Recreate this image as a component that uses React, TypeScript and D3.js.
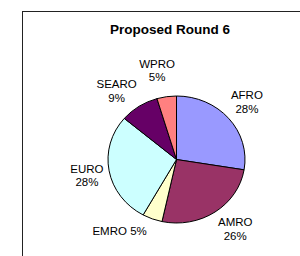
import React from "react";
import * as d3 from "d3";

const regions = ["AFRO", "AMRO", "EMRO", "EURO", "SEARO", "WPRO"];
const shares = [27.6, 25.8, 4.7, 28.1, 9.2, 4.6];
const shareLabels = ["28%", "26%", "5%", "28%", "9%", "5%"];
const colors = ["#9999FF", "#993366", "#FFFFCC", "#CCFFFF", "#660066", "#FF8080"];

// layout tweaks (degrees) so the labels sit where Excel put them
const labelNudge = [1, -6, 18, 0, -8, -4];
const oneLine = [false, false, true, false, false, false];

const width = 300;
const height = 256;
const cx = 176.5;
const cy = 159.5;
const rx = 68.5;
const ry = 63.5;
const labelR = 91;

export default function App() {
  const data = regions.map((r, i) => ({ region: r, value: shares[i], label: shareLabels[i], i }));
  const pie = d3.pie<any>().sort(null).value((d) => d.value);
  const arcs = pie(data);
  const arc = d3.arc<any>().innerRadius(0).outerRadius(rx);

  return (
    <svg width={width} height={height} style={{ position: "absolute", left: 0, top: 0 }}
      fontFamily="'Liberation Sans', Arial, sans-serif">
      <rect x={0} y={0} width={width} height={height} fill="#fff" />
      <rect x={22.5} y={11.5} width={400} height={400} fill="none" stroke="#222" strokeWidth={1} />
      <text x={170} y={34} textAnchor="middle" fontWeight="bold" fontSize={13.5} fill="#000">
        Proposed Round 6
      </text>
      <g transform={`translate(${cx},${cy}) scale(1,${ry / rx})`}>
        {arcs.map((a, i) => (
          <path key={i} d={arc(a) || ""} fill={colors[i]} stroke="#000" strokeWidth={1}
            vectorEffect="non-scaling-stroke" />
        ))}
      </g>
      {arcs.map((a, i) => {
        const mid = (a.startAngle + a.endAngle) / 2 + (labelNudge[i] * Math.PI) / 180;
        const lx = cx + labelR * Math.sin(mid);
        const ly = cy - labelR * Math.cos(mid);
        if (oneLine[i]) {
          return (
            <text key={i} x={lx} y={ly + 4} textAnchor="middle" fontSize={11.5} fill="#000">
              {`${a.data.region} ${a.data.label}`}
            </text>
          );
        }
        return (
          <text key={i} textAnchor="middle" fontSize={11.5} fill="#000">
            <tspan x={lx} y={ly - 6.75 + 4}>{a.data.region}</tspan>
            <tspan x={lx} y={ly + 6.75 + 4}>{a.data.label}</tspan>
          </text>
        );
      })}
    </svg>
  );
}
